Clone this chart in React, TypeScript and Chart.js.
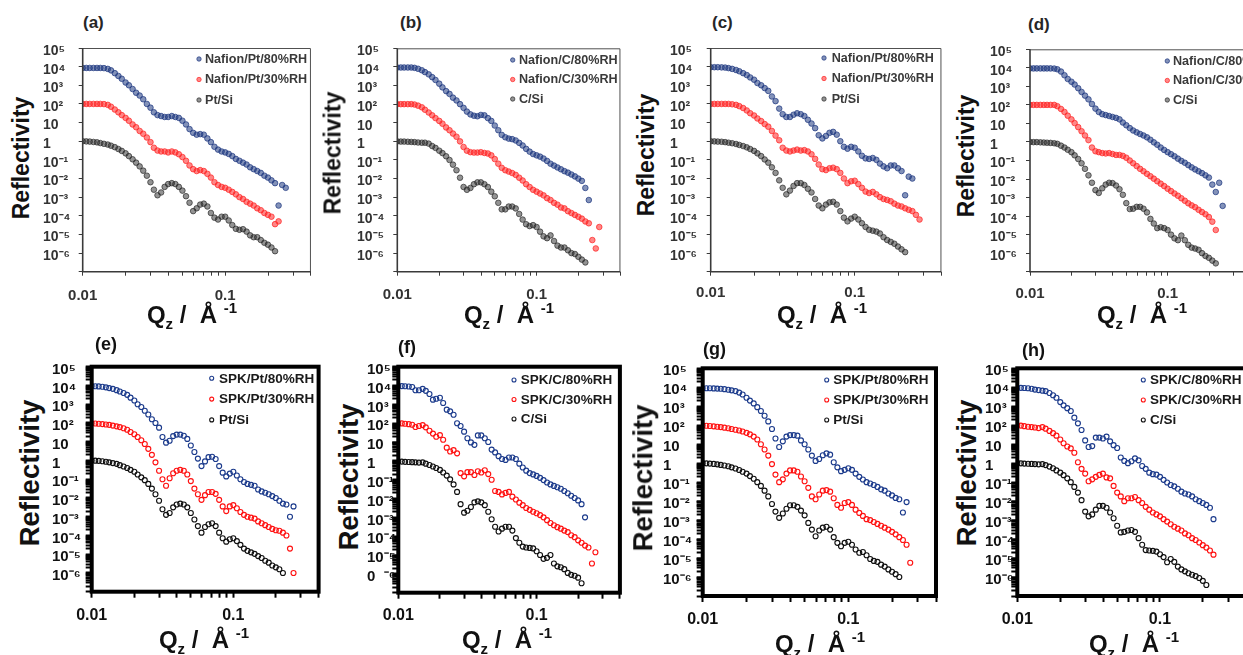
import { useEffect, useRef } from 'react';
import { Chart, registerables } from 'chart.js';

Chart.register(...registerables);

const qz = [0.0100,0.0106,0.0112,0.0119,0.0126,0.0133,0.0141,0.0150,0.0158,0.0168,
  0.0178,0.0188,0.0200,0.0211,0.0224,0.0237,0.0251,0.0266,0.0282,0.0299,
  0.0316,0.0335,0.0355,0.0376,0.0398,0.0422,0.0447,0.0473,0.0501,0.0531,
  0.0562,0.0596,0.0631,0.0668,0.0708,0.0750,0.0794,0.0841,0.0891,0.0944,
  0.1000,0.1059,0.1122,0.1189,0.1259,0.1334,0.1413,0.1496,0.1585,0.1679,
  0.1778,0.1884,0.1995,0.2113,0.2239,0.2371,0.2512,0.2661,0.2818];

// log10(Reflectivity) values
const a_nafionPt80 = [3.93,3.93,3.93,3.93,3.93,3.93,3.92,3.88,3.8,3.65,
  3.5,3.35,3.15,3.0,2.8,2.6,2.45,2.25,2.0,1.8,
  1.55,1.4,1.35,1.3,1.3,1.35,1.3,1.25,1.1,0.9,
  0.65,0.45,0.35,0.38,0.35,0.15,-0.05,-0.3,-0.45,-0.55,
  -0.6,-0.68,-0.8,-0.95,-1.05,-1.15,-1.25,-1.4,-1.5,-1.6,
  -1.7,-1.85,-1.95,-2.1,-2.25,-3.45,-2.35,-2.5];
const a_nafionPt30 = [2.0,2.0,2.0,2.0,2.0,2.0,1.99,1.95,1.85,1.7,
  1.55,1.4,1.25,1.1,0.9,0.75,0.55,0.4,0.2,-0.05,
  -0.35,-0.5,-0.55,-0.55,-0.6,-0.55,-0.6,-0.7,-0.85,-1.05,
  -1.3,-1.5,-1.6,-1.55,-1.6,-1.75,-1.95,-2.2,-2.35,-2.45,
  -2.5,-2.6,-2.72,-2.85,-3.0,-3.1,-3.25,-3.35,-3.45,-3.6,
  -3.7,-3.85,-3.95,-4.05,-4.45,-4.3];
const a_ptSi = [0.0,-0.01,-0.02,-0.04,-0.06,-0.1,-0.14,-0.18,-0.24,-0.32,
  -0.42,-0.52,-0.65,-0.8,-0.97,-1.15,-1.35,-1.58,-1.85,-2.2,
  -2.6,-2.9,-2.75,-2.45,-2.3,-2.25,-2.3,-2.45,-2.65,-2.95,
  -3.3,-3.75,-3.6,-3.4,-3.35,-3.5,-3.85,-4.1,-4.2,-4.05,
  -4.05,-4.25,-4.5,-4.7,-4.75,-4.72,-4.85,-5.05,-5.15,-5.15,
  -5.3,-5.45,-5.55,-5.7,-5.9];

const b_nafionC80 = [3.97,3.97,3.97,3.97,3.97,3.95,3.9,3.82,3.72,3.6,
  3.45,3.3,3.1,2.9,2.7,2.55,2.35,2.2,2.0,1.8,
  1.6,1.45,1.38,1.35,1.42,1.4,1.25,1.1,0.85,0.6,
  0.35,0.22,0.15,0.12,0.05,-0.08,-0.22,-0.4,-0.55,-0.68,
  -0.75,-0.82,-0.92,-1.05,-1.2,-1.3,-1.4,-1.5,-1.6,-1.68,
  -1.78,-1.88,-2.0,-2.12,-2.5,-3.15];
const b_nafionC30 = [2.0,2.0,2.0,2.0,2.0,1.98,1.92,1.83,1.7,1.55,
  1.4,1.25,1.1,0.95,0.75,0.6,0.42,0.25,0.0,-0.3,
  -0.5,-0.58,-0.6,-0.6,-0.58,-0.62,-0.65,-0.75,-0.95,-1.2,
  -1.42,-1.55,-1.62,-1.7,-1.8,-1.95,-2.1,-2.3,-2.45,-2.6,
  -2.7,-2.8,-2.9,-3.05,-3.15,-3.3,-3.4,-3.55,-3.6,-3.75,
  -3.85,-3.95,-4.05,-4.15,-4.3,-4.4,-5.3,-5.75,-4.6];
const b_cSi = [0.0,-0.01,-0.01,-0.02,-0.03,-0.04,-0.06,-0.07,-0.07,-0.12,
  -0.25,-0.35,-0.5,-0.63,-0.8,-1.0,-1.25,-1.55,-1.95,-2.45,
  -2.6,-2.5,-2.3,-2.2,-2.2,-2.3,-2.45,-2.7,-2.95,-3.3,
  -3.65,-3.65,-3.5,-3.5,-3.6,-3.9,-4.2,-4.45,-4.55,-4.5,
  -4.6,-4.85,-5.1,-5.2,-5.05,-5.35,-5.6,-5.7,-5.7,-5.85,
  -6.0,-6.05,-6.2,-6.35,-6.5];

const c_nafionPt80 = [3.97,3.97,3.97,3.96,3.95,3.92,3.88,3.82,3.75,3.65,
  3.55,3.42,3.3,3.12,3.0,2.85,2.7,2.4,2.15,1.75,
  1.45,1.3,1.3,1.42,1.5,1.45,1.35,1.15,0.95,0.7,
  0.32,0.15,0.28,0.45,0.5,0.35,0.0,-0.3,-0.4,-0.3,
  -0.35,-0.55,-0.78,-0.92,-0.95,-0.9,-1.0,-1.2,-1.35,-1.45,
  -1.3,-1.3,-1.45,-1.6,-2.9,-1.9,-2.0];
const c_nafionPt30 = [2.0,2.0,2.0,2.0,2.0,2.0,1.98,1.95,1.88,1.78,
  1.65,1.5,1.38,1.22,1.08,0.92,0.78,0.55,0.3,0.05,
  -0.35,-0.5,-0.55,-0.5,-0.45,-0.5,-0.48,-0.55,-0.7,-0.95,
  -1.25,-1.5,-1.55,-1.45,-1.42,-1.5,-1.7,-2.0,-2.25,-2.15,
  -2.12,-2.3,-2.5,-2.7,-2.78,-2.72,-2.85,-3.0,-3.1,-3.15,
  -3.22,-3.35,-3.45,-3.5,-3.6,-3.68,-3.75,-3.95,-4.2];
const c_ptSi = [0.0,-0.01,-0.02,-0.03,-0.05,-0.08,-0.11,-0.15,-0.2,-0.26,
  -0.33,-0.42,-0.52,-0.65,-0.8,-0.98,-1.15,-1.4,-1.7,-2.1,
  -2.5,-2.85,-2.65,-2.4,-2.25,-2.25,-2.35,-2.55,-2.75,-3.1,
  -3.45,-3.6,-3.4,-3.28,-3.25,-3.4,-3.75,-4.1,-4.3,-4.15,
  -4.05,-4.2,-4.4,-4.6,-4.75,-4.8,-4.85,-4.95,-5.15,-5.3,
  -5.4,-5.5,-5.65,-5.8,-5.95];

const d_nafionC80 = [3.97,3.97,3.97,3.97,3.97,3.97,3.97,3.96,3.92,3.8,
  3.6,3.4,3.25,3.1,2.9,2.7,2.5,2.3,2.05,1.8,
  1.62,1.5,1.45,1.4,1.35,1.3,1.22,1.05,0.9,0.75,
  0.62,0.52,0.43,0.35,0.25,0.12,-0.02,-0.15,-0.3,-0.43,
  -0.55,-0.66,-0.77,-0.9,-1.02,-1.12,-1.25,-1.37,-1.48,-1.58,
  -1.68,-1.8,-1.92,-2.3,-2.7,-2.2,-3.45];
const d_nafionC30 = [2.0,2.0,2.0,2.0,2.0,2.0,2.0,2.0,1.93,1.78,
  1.62,1.42,1.22,1.02,0.8,0.58,0.35,0.1,-0.3,-0.5,
  -0.55,-0.6,-0.62,-0.6,-0.65,-0.7,-0.7,-0.75,-0.85,-1.0,
  -1.15,-1.3,-1.45,-1.58,-1.72,-1.85,-1.98,-2.12,-2.25,-2.38,
  -2.52,-2.65,-2.78,-2.9,-3.04,-3.17,-3.31,-3.42,-3.52,-3.66,
  -3.78,-3.9,-4.05,-4.3,-4.75];
const d_cSi = [0.0,-0.01,-0.01,-0.02,-0.03,-0.04,-0.05,-0.07,-0.1,-0.2,
  -0.3,-0.42,-0.55,-0.72,-0.92,-1.15,-1.45,-1.8,-2.2,-2.6,
  -2.75,-2.5,-2.3,-2.2,-2.22,-2.35,-2.55,-2.85,-3.3,-3.62,
  -3.6,-3.5,-3.5,-3.6,-3.8,-4.15,-4.4,-4.65,-4.6,-4.65,
  -4.75,-5.0,-5.2,-5.3,-5.05,-5.3,-5.55,-5.7,-5.75,-5.82,
  -6.0,-6.15,-6.25,-6.4,-6.55];

const e_spkPt80 = [3.97,3.96,3.95,3.93,3.9,3.86,3.82,3.75,3.68,3.6,
  3.5,3.35,3.2,3.0,2.85,2.65,2.45,2.2,2.0,1.75,
  1.25,0.95,1.05,1.3,1.38,1.38,1.32,1.15,0.8,0.45,
  0.1,-0.3,-0.05,0.18,0.2,0.08,-0.3,-0.65,-0.85,-0.7,
  -0.6,-0.8,-1.0,-1.15,-1.25,-1.3,-1.35,-1.55,-1.65,-1.72,
  -1.8,-1.9,-2.0,-2.15,-2.3,-2.35,-3.0,-2.45];
const e_spkPt30 = [1.98,1.97,1.96,1.94,1.92,1.9,1.86,1.82,1.78,1.72,
  1.64,1.52,1.4,1.25,1.08,0.88,0.62,0.3,-0.1,-0.55,
  -1.0,-1.35,-0.95,-0.68,-0.55,-0.5,-0.55,-0.75,-1.1,-1.5,
  -1.8,-2.1,-1.85,-1.68,-1.68,-1.78,-2.1,-2.45,-2.7,-2.45,
  -2.38,-2.55,-2.75,-2.9,-3.0,-3.05,-3.1,-3.25,-3.35,-3.45,
  -3.55,-3.65,-3.72,-3.75,-3.85,-4.0,-4.7,-6.0];
const e_ptSi = [0.0,-0.01,-0.02,-0.04,-0.07,-0.1,-0.14,-0.18,-0.25,-0.32,
  -0.4,-0.5,-0.6,-0.75,-0.9,-1.05,-1.25,-1.5,-1.8,-2.15,
  -2.6,-2.9,-2.8,-2.5,-2.35,-2.3,-2.35,-2.5,-2.8,-3.15,
  -3.5,-3.85,-3.55,-3.4,-3.35,-3.5,-3.85,-4.15,-4.33,-4.2,
  -4.15,-4.3,-4.5,-4.7,-4.82,-4.9,-4.98,-5.1,-5.2,-5.35,
  -5.45,-5.6,-5.7,-5.8,-6.0];

const f_spkC80 = [3.97,3.97,3.96,3.95,3.92,3.75,3.75,3.82,3.72,3.55,
  3.25,3.3,3.35,3.07,2.72,2.63,2.45,2.0,1.85,1.55,
  1.2,0.98,0.85,1.35,1.35,1.2,1.0,0.6,0.45,0.25,
  0.1,0.05,0.18,0.18,0.1,-0.15,-0.35,-0.52,-0.65,-0.72,
  -0.8,-0.9,-1.02,-1.15,-1.25,-1.33,-1.4,-1.48,-1.6,-1.72,
  -1.85,-1.97,-2.1,-2.3,-3.0];
const f_spkC30 = [1.99,1.99,1.97,1.95,1.92,1.8,1.85,1.9,1.78,1.6,
  1.45,1.28,1.37,1.12,0.7,0.5,0.57,0.4,-0.65,-0.82,
  -0.6,-0.6,-0.75,-0.55,-0.62,-0.5,-0.7,-1.0,-1.6,-1.65,
  -1.78,-1.7,-1.65,-1.9,-2.05,-2.22,-2.35,-2.5,-2.6,-2.7,
  -2.78,-2.88,-3.0,-3.15,-3.3,-3.42,-3.52,-3.6,-3.7,-3.78,
  -3.95,-4.05,-4.22,-4.35,-4.5,-4.6,-5.45,-4.85];
const f_cSi = [-0.04,-0.04,-0.05,-0.06,-0.07,-0.08,-0.09,-0.08,-0.15,-0.22,
  -0.3,-0.38,-0.48,-0.62,-0.78,-0.98,-1.25,-1.65,-2.3,-2.75,
  -2.65,-2.45,-2.2,-2.15,-2.2,-2.35,-2.7,-3.1,-3.5,-3.75,
  -3.6,-3.5,-3.5,-3.7,-4.1,-4.35,-4.55,-4.6,-4.62,-4.65,
  -4.8,-5.0,-5.2,-5.15,-5.0,-5.45,-5.6,-5.65,-5.75,-5.95,
  -6.05,-6.1,-6.2,-6.5];

const g_spkPt80 = [3.95,3.95,3.95,3.94,3.93,3.92,3.9,3.87,3.84,3.8,
  3.72,3.62,3.45,3.3,3.15,2.95,2.75,2.5,2.2,1.8,
  1.3,0.85,1.15,1.4,1.48,1.48,1.45,1.2,1.0,0.72,
  0.4,0.12,0.22,0.42,0.52,0.45,0.05,-0.22,-0.42,-0.35,
  -0.27,-0.35,-0.55,-0.72,-0.86,-1.0,-1.07,-1.15,-1.25,-1.38,
  -1.45,-1.6,-1.7,-1.83,-1.9,-2.6,-2.05];
const g_spkPt30 = [1.98,1.97,1.96,1.94,1.92,1.9,1.87,1.84,1.8,1.76,
  1.72,1.67,1.6,1.52,1.4,1.25,1.0,0.72,0.4,-0.05,
  -0.6,-1.0,-0.85,-0.55,-0.38,-0.38,-0.45,-0.7,-0.95,-1.3,
  -1.75,-1.9,-1.65,-1.45,-1.42,-1.5,-1.85,-2.2,-2.35,-2.1,
  -2.05,-2.2,-2.45,-2.62,-2.78,-2.95,-3.0,-3.1,-3.2,-3.3,
  -3.4,-3.5,-3.62,-3.75,-3.9,-4.05,-4.3,-5.25];
const g_ptSi = [0.0,-0.01,-0.02,-0.04,-0.06,-0.09,-0.12,-0.16,-0.22,-0.28,
  -0.36,-0.45,-0.55,-0.68,-0.82,-1.0,-1.2,-1.45,-1.75,-2.15,
  -2.55,-2.88,-2.65,-2.4,-2.22,-2.22,-2.3,-2.5,-2.75,-3.15,
  -3.5,-3.85,-3.55,-3.4,-3.35,-3.5,-3.9,-4.2,-4.38,-4.2,
  -4.14,-4.3,-4.55,-4.72,-4.68,-4.85,-5.05,-5.15,-5.2,-5.35,
  -5.45,-5.6,-5.72,-5.85,-6.0];

const h_spkC80 = [3.97,3.97,3.96,3.95,3.92,3.88,3.85,3.82,3.8,3.7,
  3.58,3.45,3.22,3.05,2.9,2.75,2.4,2.1,1.75,1.2,
  0.85,0.9,1.35,1.35,1.3,1.4,1.15,0.95,0.8,0.3,
  0.12,0.0,0.1,0.25,0.15,-0.15,-0.3,-0.5,-0.58,-0.6,
  -0.72,-0.88,-1.02,-1.15,-1.22,-1.35,-1.5,-1.6,-1.65,-1.75,
  -1.9,-2.0,-2.1,-2.2,-2.35,-2.95];
const h_spkC30 = [2.0,1.98,1.95,1.92,1.9,1.88,1.85,1.9,1.82,1.7,
  1.58,1.45,1.25,1.05,0.88,0.78,0.55,0.05,-0.3,-0.55,
  -0.95,-0.85,-0.72,-0.62,-0.55,-0.75,-0.8,-1.2,-1.55,-1.75,
  -2.0,-1.85,-1.85,-1.78,-1.95,-2.1,-2.3,-2.45,-2.6,-2.7,
  -2.8,-2.95,-3.08,-3.22,-3.35,-3.45,-3.55,-3.7,-3.8,-3.95,
  -4.05,-4.18,-4.32,-4.45,-4.6,-4.82];
const h_cSi = [0.0,-0.01,-0.02,-0.03,-0.04,-0.05,-0.06,-0.05,-0.1,-0.18,
  -0.27,-0.38,-0.5,-0.63,-0.8,-1.0,-1.25,-1.55,-1.95,-2.55,
  -2.8,-2.7,-2.45,-2.25,-2.25,-2.35,-2.6,-2.9,-3.3,-3.65,
  -3.62,-3.55,-3.52,-3.62,-3.95,-4.3,-4.58,-4.6,-4.62,-4.66,
  -4.8,-4.95,-5.22,-5.05,-5.2,-5.45,-5.6,-5.7,-5.8,-5.88,
  -5.95,-6.05,-6.2,-6.42];

// axis ticks and labels
const xTickValues = [0.01,0.02,0.03,0.04,0.05,0.06,0.07,0.08,0.09,0.1,0.2,0.3,0.4];
const xLabelValues = [0.01, 0.1];
const xTickLabels = ['0.01', '0.1'];
const yDecades = [1e-7,1e-6,1e-5,1e-4,1e-3,1e-2,1e-1,1,10,100,1e3,1e4,1e5];
const yMinorFactors = [2,3,4,5,6,7,8,9];
const yLabelExps = [-6,-5,-4,-3,-2,-1,0,1,2,3,4,5];
const yTickLabels = ['10⁻⁶','10⁻⁵','10⁻⁴','10⁻³','10⁻²','10⁻¹','1','10','10²','10³','10⁴','10⁵'];
const yTickLabelsF = ['0  ⁻⁶','10⁻⁵','10⁻⁴','10⁻³','10⁻²','10⁻¹','1','10','10²','10³','10⁴','10⁵'];

const FONT = '"Liberation Sans", Arial, Helvetica, sans-serif';

const TOP_COL = {
  blue: ['rgba(30,56,128,0.55)', 'rgba(30,56,128,0.9)'],
  red: ['rgba(255,36,36,0.55)', 'rgba(255,36,36,0.9)'],
  black: ['rgba(40,40,40,0.5)', 'rgba(40,40,40,0.85)'],
};
const BOT_COL = { blue: '#1c3b8c', red: '#ff1212', black: '#111111' };

const panels = [
  { tag: '(a)', heavy: false, labelLeft: 43, L: 82.7, R: 313.4, T: 48, B: 271.7, xlCy: 293.5,
    leg: { mx: 199, tx: 205, y0: 59, dy: 20.5 }, tagPos: [83, 23], xt: [192, 315], yt: [20.7, 158],
    yLabels: yTickLabels,
    series: [['Nafion/Pt/80%RH', a_nafionPt80, 'blue'], ['Nafion/Pt/30%RH', a_nafionPt30, 'red'], ['Pt/Si', a_ptSi, 'black']] },
  { tag: '(b)', heavy: false, labelLeft: 357, L: 397.3, R: 622.4, T: 48.3, B: 271.7, xlCy: 293,
    leg: { mx: 512.7, tx: 519, y0: 60, dy: 19.5 }, tagPos: [400, 23], xt: [509, 315], yt: [333, 153],
    yLabels: yTickLabels,
    series: [['Nafion/C/80%RH', b_nafionC80, 'blue'], ['Nafion/C/30%RH', b_nafionC30, 'red'], ['C/Si', b_cSi, 'black']] },
  { tag: '(c)', heavy: false, labelLeft: 670, L: 710.7, R: 941.9, T: 48, B: 271.7, xlCy: 291,
    leg: { mx: 824, tx: 831.7, y0: 58, dy: 20.5 }, tagPos: [712, 23], xt: [822, 315], yt: [646, 155],
    yLabels: yTickLabels,
    series: [['Nafion/Pt/80%RH', c_nafionPt80, 'blue'], ['Nafion/Pt/30%RH', c_nafionPt30, 'red'], ['Pt/Si', c_ptSi, 'black']] },
  { tag: '(d)', heavy: false, labelLeft: 990, L: 1030, R: 1251.6, T: 49.3, B: 271.7, xlCy: 292,
    leg: { mx: 1167.3, tx: 1173, y0: 61, dy: 19.5 }, tagPos: [1028, 25], xt: [1142, 315], yt: [966, 156],
    yLabels: yTickLabels,
    series: [['Nafion/C/80%RH', d_nafionC80, 'blue'], ['Nafion/C/30%RH', d_nafionC30, 'red'], ['C/Si', d_cSi, 'black']] },
  { tag: '(e)', heavy: true, labelLeft: 52, L: 91.7, R: 318.7, T: 366.7, B: 591.7, xlCy: 613.3,
    leg: { mx: 211.7, tx: 219, y0: 378.3, dy: 20.8 }, tagPos: [95, 344], xt: [204, 640], yt: [30, 473],
    yLabels: yTickLabels,
    series: [['SPK/Pt/80%RH', e_spkPt80, 'blue'], ['SPK/Pt/30%RH', e_spkPt30, 'red'], ['Pt/Si', e_ptSi, 'black']] },
  { tag: '(f)', heavy: true, labelLeft: 367, L: 398.3, R: 619.9, T: 366.7, B: 592.7, xlCy: 613.3,
    leg: { mx: 514, tx: 520.7, y0: 380, dy: 19.5 }, tagPos: [398, 347], xt: [507, 640], yt: [349, 477],
    yLabels: yTickLabelsF,
    series: [['SPK/C/80%RH', f_spkC80, 'blue'], ['SPK/C/30%RH', f_spkC30, 'red'], ['C/Si', f_cSi, 'black']] },
  { tag: '(g)', heavy: true, labelLeft: 663, L: 702.7, R: 936, T: 368.3, B: 596, xlCy: 616.7,
    leg: { mx: 826.7, tx: 833.3, y0: 380, dy: 20 }, tagPos: [703, 349], xt: [820, 644], yt: [643, 478],
    yLabels: yTickLabels,
    series: [['SPK/Pt/80%RH', g_spkPt80, 'blue'], ['SPK/Pt/30%RH', g_spkPt30, 'red'], ['Pt/Si', g_ptSi, 'black']] },
  { tag: '(h)', heavy: true, labelLeft: 985, L: 1017.3, R: 1245.9, T: 368.3, B: 596, xlCy: 616.7,
    leg: { mx: 1143.3, tx: 1150, y0: 380, dy: 20 }, tagPos: [1022, 350], xt: [1134, 644], yt: [967, 473],
    yLabels: yTickLabels,
    series: [['SPK/C/80%RH', h_spkC80, 'blue'], ['SPK/C/30%RH', h_spkC30, 'red'], ['C/Si', h_cSi, 'black']] },
];

const framePlugin = {
  id: 'frame',
  afterDatasetsDraw(chart: any, _args: any, opts: any) {
    const { left, top, right, bottom } = chart.chartArea;
    const ctx = chart.ctx;
    ctx.save();
    if (opts.heavy) {
      ctx.lineWidth = 4;
      ctx.strokeStyle = '#000';
      ctx.strokeRect(left, top, right - left, bottom - top);
    } else {
      ctx.lineWidth = 1;
      ctx.strokeStyle = '#505050';
      ctx.beginPath();
      ctx.moveTo(left, top + 0.5);
      ctx.lineTo(right - 0.5, top + 0.5);
      ctx.lineTo(right - 0.5, bottom);
      ctx.stroke();
      ctx.lineWidth = 1.6;
      ctx.strokeStyle = '#3a3a3a';
      ctx.beginPath();
      ctx.moveTo(left, top);
      ctx.lineTo(left, bottom);
      ctx.lineTo(right, bottom);
      ctx.stroke();
    }
    ctx.restore();
  },
};

const insetLegend = {
  id: 'insetLegend',
  afterDatasetsDraw(chart: any, _args: any, opts: any) {
    const ctx = chart.ctx;
    ctx.save();
    ctx.font = opts.fontStr;
    ctx.textBaseline = 'middle';
    ctx.textAlign = 'left';
    chart.data.datasets.forEach((ds: any, i: number) => {
      const y = opts.y0 + i * opts.dy;
      ctx.beginPath();
      ctx.arc(opts.mx, y, opts.r, 0, Math.PI * 2);
      if (opts.hollow) {
        ctx.lineWidth = 1.1;
        ctx.strokeStyle = ds.borderColor;
        ctx.stroke();
      } else {
        ctx.fillStyle = ds.backgroundColor;
        ctx.fill();
        ctx.lineWidth = 0.8;
        ctx.strokeStyle = ds.borderColor;
        ctx.stroke();
      }
      ctx.fillStyle = opts.color;
      ctx.fillText(ds.label, opts.tx, y + 0.5);
    });
    ctx.restore();
  },
};

function geometry(p: any) {
  const cl = Math.round(p.labelLeft);
  const ct = Math.floor(p.T) - 14;
  const w = Math.ceil(p.R + 8 - cl);
  const h = Math.ceil(p.B + 40 - ct);
  return { cl, ct, w, h, padTop: p.T - ct, padRight: cl + w - p.R, yW: p.L - cl, xH: ct + h - p.B };
}

function yLabelFor(labels: string[], v: number) {
  const e = Math.log10(v);
  const r = Math.round(e);
  if (Math.abs(e - r) > 1e-6) return '';
  const i = yLabelExps.indexOf(r);
  return i >= 0 ? labels[i] : '';
}

function xLabelFor(v: number) {
  const i = xLabelValues.findIndex((t) => Math.abs(t - v) < 1e-9);
  return i >= 0 ? xTickLabels[i] : '';
}

function buildConfig(p: any, g: any) {
  const heavy = p.heavy;
  const yTicks: number[] = [];
  yDecades.forEach((d, i) => {
    yTicks.push(d);
    if (heavy && i < yDecades.length - 1) yMinorFactors.forEach((f) => yTicks.push(d * f));
  });
  const tickLen = heavy ? 6 : 4;
  const xFontSize = heavy ? 16 : 15;
  const xPad = p.xlCy - xFontSize * 0.45 - p.B - tickLen;
  const tickColor = heavy ? '#000' : '#3a3a3a';
  const labelColor = heavy ? '#111' : '#333333';
  const datasets = p.series.map(([label, vals, tone]: any) => {
    const data = vals.map((v: number, i: number) => ({ x: qz[i], y: Math.pow(10, v) }));
    if (heavy) {
      return { label, data, pointRadius: 2.5, pointHoverRadius: 2.5, backgroundColor: 'rgba(0,0,0,0)',
        borderColor: (BOT_COL as any)[tone], borderWidth: 1.15 };
    }
    const c = (TOP_COL as any)[tone];
    return { label, data, pointRadius: 2.8, pointHoverRadius: 2.8, backgroundColor: c[0], borderColor: c[1], borderWidth: 0.8 };
  });
  return {
    type: 'scatter',
    data: { datasets },
    options: {
      animation: false,
      responsive: false,
      maintainAspectRatio: false,
      events: [],
      layout: { padding: { left: 0, top: g.padTop, right: g.padRight, bottom: 0 } },
      plugins: {
        legend: { display: false },
        tooltip: { enabled: false },
        frame: { heavy },
        insetLegend: {
          mx: p.leg.mx - g.cl, tx: p.leg.tx - g.cl, y0: p.leg.y0 - g.ct, dy: p.leg.dy,
          r: heavy ? 2 : 2.2, hollow: heavy,
          fontStr: `bold ${heavy ? 13.5 : 12.6}px ${FONT}`, color: heavy ? '#1a1a1a' : '#3a3a3a',
        },
      },
      scales: {
        x: {
          type: 'logarithmic', min: 0.01, max: 0.4,
          afterBuildTicks: (s: any) => { s.ticks = xTickValues.map((v) => ({ value: v })); },
          afterFit: (s: any) => { s.height = g.xH; },
          ticks: { autoSkip: false, maxRotation: 0, minRotation: 0, padding: xPad, color: labelColor,
            font: { family: FONT, size: xFontSize, weight: 'bold' }, callback: (v: number) => xLabelFor(v) },
          grid: { drawOnChartArea: false, drawTicks: true, tickLength: tickLen, tickWidth: heavy ? 2 : 1, tickColor },
          border: { display: false },
        },
        y: {
          type: 'logarithmic', min: 1e-7, max: 1e5,
          afterBuildTicks: (s: any) => { s.ticks = yTicks.map((v) => ({ value: v })); },
          afterFit: (s: any) => { s.width = g.yW; },
          ticks: { autoSkip: false, crossAlign: 'far', padding: 0, labelOffset: 3, color: labelColor,
            font: { family: FONT, size: heavy ? 15 : 14, weight: 'bold' }, callback: (v: number) => yLabelFor(p.yLabels, v) },
          grid: { drawOnChartArea: false, drawTicks: true, tickLength: tickLen, tickWidth: heavy ? 2 : 1, tickColor },
          border: { display: false },
        },
      },
    },
    plugins: [framePlugin, insetLegend],
  };
}

function Panel({ p }: { p: any }) {
  const ref = useRef<HTMLCanvasElement | null>(null);
  const g = geometry(p);
  useEffect(() => {
    if (!ref.current) return;
    const chart = new Chart(ref.current, buildConfig(p, g) as any);
    return () => chart.destroy();
  }, []);
  const titleColor = '#111';
  return (
    <>
      <canvas ref={ref} width={g.w} height={g.h}
        style={{ position: 'absolute', left: g.cl, top: g.ct, width: g.w, height: g.h }} />
      <div style={{ position: 'absolute', left: p.tagPos[0], top: p.tagPos[1] - 10, font: `bold ${p.heavy ? 18 : 17}px ${FONT}`,
        lineHeight: '20px', color: p.heavy ? '#111' : '#262626', whiteSpace: 'nowrap' }}>{p.tag}</div>
      <div style={{ position: 'absolute', left: p.yt[0], top: p.yt[1], transform: 'translate(-50%, -50%) rotate(-90deg)',
        font: `bold ${p.heavy ? 27.5 : 23}px ${FONT}`, lineHeight: 1, whiteSpace: 'nowrap', color: titleColor }}>Reflectivity</div>
      <div style={{ position: 'absolute', left: p.xt[0], top: p.xt[1] - 12, transform: 'translateX(-50%)',
        font: `bold 24px ${FONT}`, lineHeight: '24px', whiteSpace: 'nowrap', color: titleColor }}>
        Q<span style={{ fontSize: 15, position: 'relative', top: 6 }}>z</span>
        {'\u00a0/\u00a0 Å '}
        <span style={{ fontSize: 15, position: 'relative', top: -10 }}>-1</span>
      </div>
    </>
  );
}

export default function App() {
  return (
    <div style={{ position: 'absolute', left: 0, top: 0, width: 1243, height: 655, overflow: 'hidden', background: '#fff' }}>
      {panels.map((p) => <Panel key={p.tag} p={p} />)}
    </div>
  );
}
